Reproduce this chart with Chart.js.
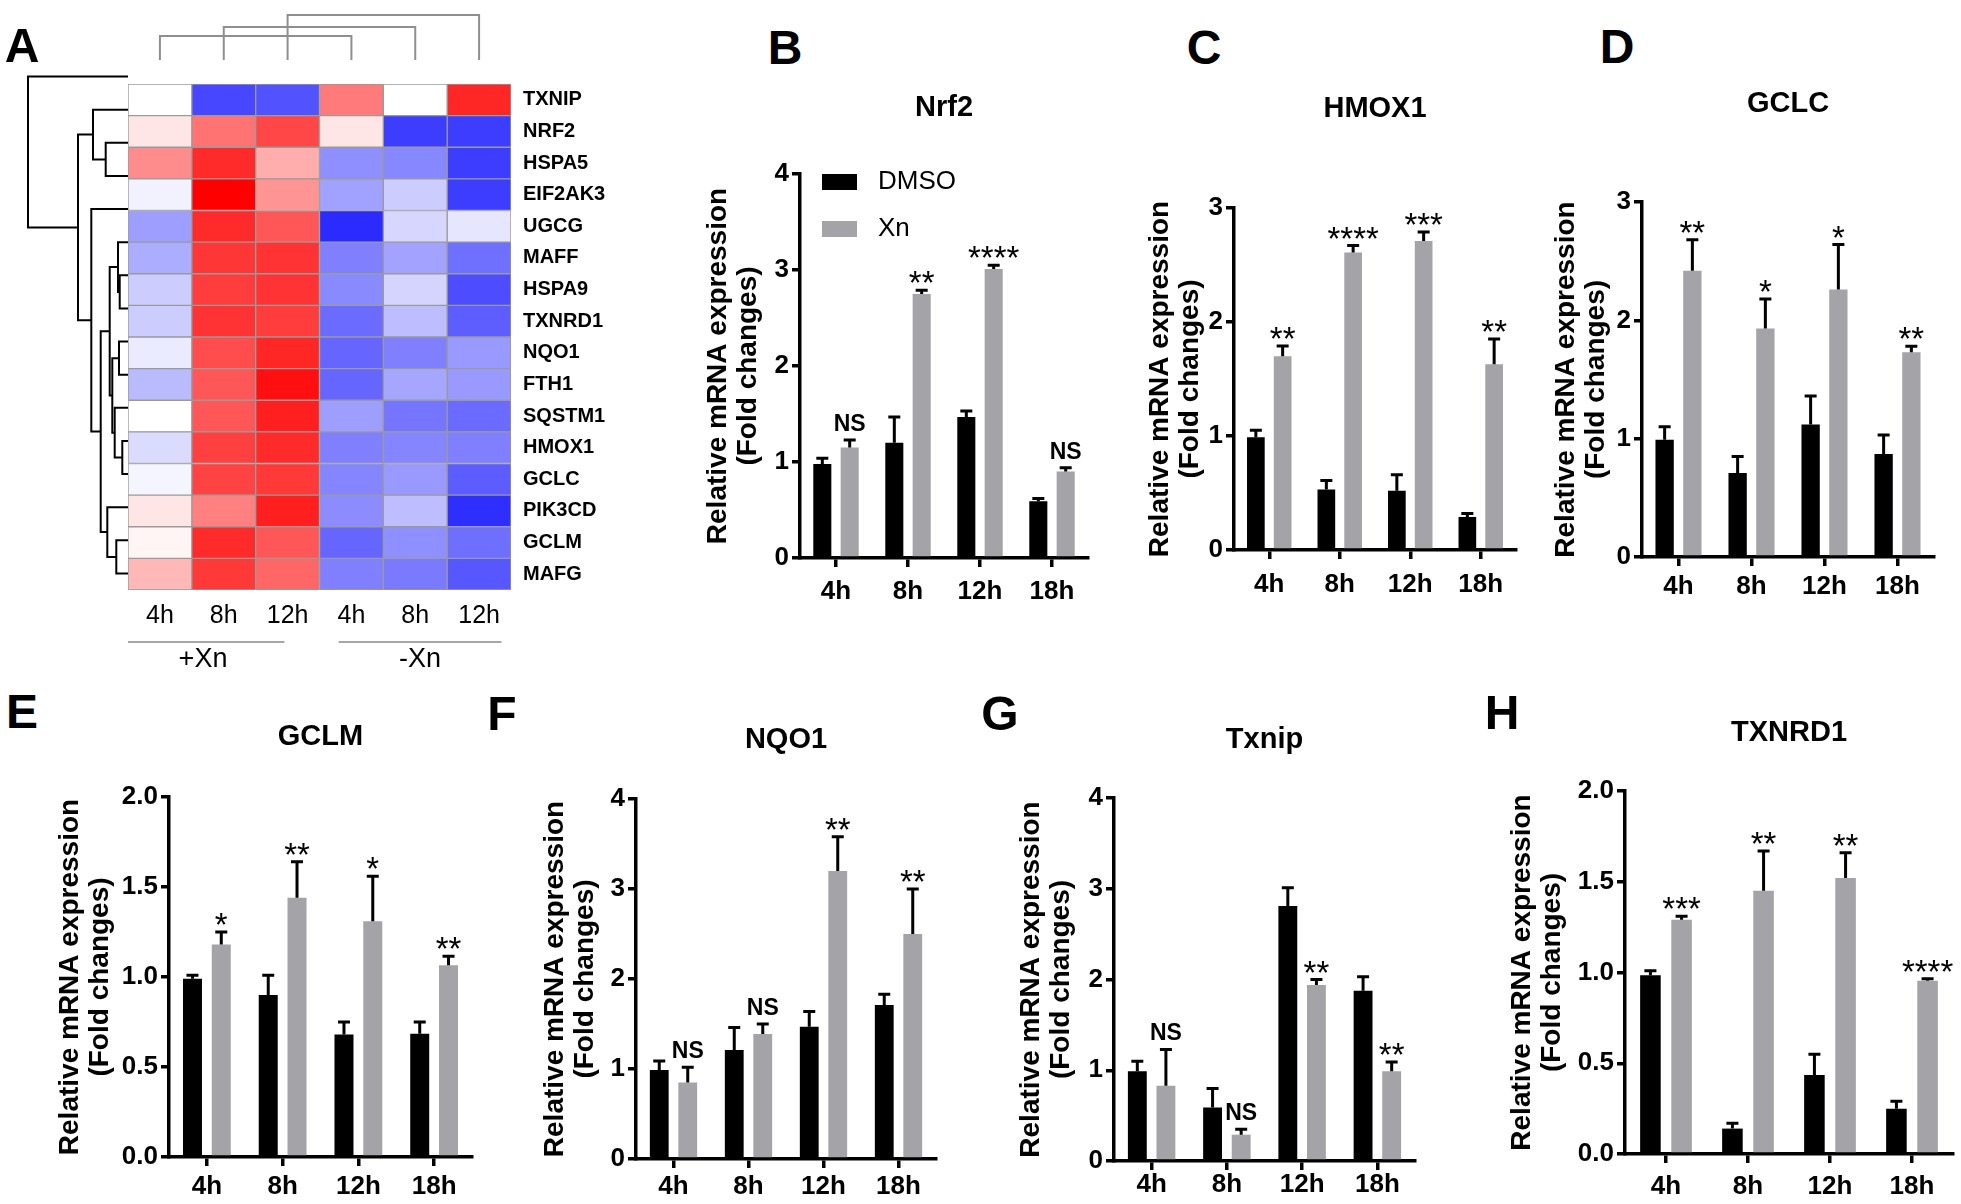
<!DOCTYPE html>
<html>
<head>
<meta charset="utf-8">
<script src="https://cdn.jsdelivr.net/npm/chart.js@4.4.1/dist/chart.umd.min.js"></script>
<style>
  html, body { margin: 0; padding: 0; background: #fff; }
  body { width: 1961px; height: 1204px; position: relative; overflow: hidden; font-family: Arial, "Liberation Sans", sans-serif; }
  .tag { position: absolute; font-weight: bold; font-size: 48px; line-height: 48px; color: #000; transform: translate(-50%, -50%); }
</style>
</head>
<body>
<script>
// ---------- data ----------
const heatGenes = ["TXNIP", "NRF2", "HSPA5", "EIF2AK3", "UGCG", "MAFF", "HSPA9", "TXNRD1",
  "NQO1", "FTH1", "SQSTM1", "HMOX1", "GCLC", "PIK3CD", "GCLM", "MAFG"];
const heatCols = ["4h", "8h", "12h", "4h", "8h", "12h"];
const heatGroups = ["+Xn", "-Xn"];
// row z-scores, columns: +Xn 4h 8h 12h, -Xn 4h 8h 12h
const heatValues = [
  [0.00, -0.72, -0.68, 0.52, 0.00, 0.85],
  [0.10, 0.55, 0.72, 0.10, -0.76, -0.76],
  [0.45, 0.83, 0.32, -0.44, -0.47, -0.76],
  [-0.05, 1.00, 0.42, -0.37, -0.20, -0.76],
  [-0.38, 0.83, 0.66, -0.83, -0.16, -0.10],
  [-0.32, 0.79, 0.80, -0.50, -0.36, -0.56],
  [-0.20, 0.76, 0.80, -0.46, -0.17, -0.70],
  [-0.20, 0.80, 0.76, -0.58, -0.26, -0.63],
  [-0.08, 0.70, 0.85, -0.60, -0.50, -0.40],
  [-0.27, 0.66, 0.94, -0.60, -0.35, -0.40],
  [0.00, 0.66, 0.88, -0.38, -0.54, -0.58],
  [-0.14, 0.75, 0.83, -0.50, -0.48, -0.50],
  [-0.04, 0.74, 0.78, -0.48, -0.40, -0.64],
  [0.10, 0.50, 0.88, -0.45, -0.26, -0.82],
  [0.04, 0.83, 0.66, -0.60, -0.44, -0.57],
  [0.28, 0.78, 0.60, -0.50, -0.52, -0.66]
];
// row dendrogram merges [nodeA, nodeB, height]; new nodes numbered from 16
const rowMerges = [
  [11, 12, 5.7], [8, 9, 9], [6, 7, 8.3], [5, 18, 10], [10, 16, 13.3],
  [17, 20, 15.7], [19, 21, 18.3], [14, 15, 11.7], [13, 23, 20.7], [22, 24, 27.3],
  [4, 25, 36.7], [2, 3, 22.3], [1, 27, 35], [28, 26, 50], [0, 29, 100]
];
// column brackets [colA, colB, height]
const colMerges = [[0, 3, 24], [1, 4, 33], [2, 5, 45]];
// group underline spans in column units
const groupSpans = [[-0.1, 2.45], [3.3, 5.85]];

const timeLabels = ["4h", "8h", "12h", "18h"];

const nrf2Dmso = [0.98, 1.20, 1.47, 0.59];
const nrf2DmsoErr = [0.06, 0.27, 0.06, 0.03];
const nrf2Xn = [1.15, 2.75, 3.01, 0.90];
const nrf2XnErr = [0.08, 0.04, 0.04, 0.04];
const nrf2Sig = ["NS", "**", "****", "NS"];

const hmox1Dmso = [0.99, 0.53, 0.52, 0.29];
const hmox1DmsoErr = [0.06, 0.08, 0.14, 0.03];
const hmox1Xn = [1.70, 2.61, 2.71, 1.63];
const hmox1XnErr = [0.09, 0.06, 0.08, 0.22];
const hmox1Sig = ["**", "****", "***", "**"];

const gclcDmso = [0.99, 0.71, 1.12, 0.87];
const gclcDmsoErr = [0.11, 0.14, 0.24, 0.16];
const gclcXn = [2.42, 1.93, 2.26, 1.73];
const gclcXnErr = [0.26, 0.25, 0.38, 0.05];
const gclcSig = ["**", "*", "*", "**"];

const gclmDmso = [0.99, 0.90, 0.68, 0.685];
const gclmDmsoErr = [0.02, 0.11, 0.07, 0.065];
const gclmXn = [1.18, 1.44, 1.31, 1.065];
const gclmXnErr = [0.07, 0.20, 0.25, 0.05];
const gclmSig = ["*", "**", "*", "**"];

const nqo1Dmso = [0.99, 1.21, 1.47, 1.71];
const nqo1DmsoErr = [0.10, 0.25, 0.17, 0.12];
const nqo1Xn = [0.85, 1.39, 3.20, 2.50];
const nqo1XnErr = [0.17, 0.11, 0.38, 0.50];
const nqo1Sig = ["NS", "NS", "**", "**"];

const txnipDmso = [0.99, 0.59, 2.81, 1.875];
const txnipDmsoErr = [0.11, 0.21, 0.20, 0.155];
const txnipXn = [0.83, 0.29, 1.94, 0.99];
const txnipXnErr = [0.40, 0.06, 0.06, 0.10];
const txnipSig = ["NS", "NS", "**", "**"];

const txnrd1Dmso = [0.985, 0.14, 0.435, 0.25];
const txnrd1DmsoErr = [0.025, 0.03, 0.115, 0.04];
const txnrd1Xn = [1.29, 1.45, 1.52, 0.955];
const txnrd1XnErr = [0.02, 0.22, 0.14, 0.01];
const txnrd1Sig = ["***", "**", "**", "****"];

// ---------- helpers ----------
const FONT = 'Arial, "Liberation Sans", sans-serif';
const XN_GRAY = "#a3a3a8";
Chart.defaults.font.family = FONT;
Chart.defaults.color = "#000";

function makeCanvas(left, top, width, height) {
  const c = document.createElement("canvas");
  c.width = width;
  c.height = height;
  c.style.position = "absolute";
  c.style.left = left + "px";
  c.style.top = top + "px";
  c.style.width = width + "px";
  c.style.height = height + "px";
  document.body.appendChild(c);
  return c.getContext("2d");
}

function addTag(text, x, y) {
  const d = document.createElement("div");
  d.className = "tag";
  d.textContent = text;
  d.style.left = x + "px";
  d.style.top = y + "px";
  document.body.appendChild(d);
}

function heatColor(v) {
  const k = Math.round(255 * (1 - Math.abs(v)));
  return v >= 0 ? `rgb(255,${k},${k})` : `rgb(${k},${k},255)`;
}

const quiet = { responsive: false, animation: false, events: [] };

// ---------- panel A ----------
const HM = { left: 128, top: 60, width: 383, height: 530 };

// row dendrogram
const rowY = heatGenes.map((g, i) => i);
const rowH = heatGenes.map(() => 0);
const rowPaths = rowMerges.map(([a, b, h]) => {
  const pts = [{ x: rowH[a], y: rowY[a] }, { x: h, y: rowY[a] }, { x: h, y: rowY[b] }, { x: rowH[b], y: rowY[b] }];
  rowY.push((rowY[a] + rowY[b]) / 2);
  rowH.push(h);
  return pts;
});

new Chart(makeCanvas(HM.left - 110, HM.top, 110, HM.height), {
  type: "scatter",
  data: {
    datasets: rowPaths.map(p => ({
      data: p, showLine: true, borderColor: "#000", borderWidth: 2, pointRadius: 0, clip: false
    }))
  },
  options: {
    ...quiet,
    plugins: { legend: { display: false }, tooltip: { enabled: false } },
    scales: {
      x: { type: "linear", min: 0, max: 110, reverse: true, display: false },
      y: { type: "linear", min: -0.5, max: 15.5, reverse: true, display: false }
    }
  }
});

// column dendrogram
new Chart(makeCanvas(HM.left, 0, HM.width, HM.top), {
  type: "scatter",
  data: {
    datasets: colMerges.map(([a, b, h]) => ({
      data: [{ x: a + 0.5, y: 0 }, { x: a + 0.5, y: h }, { x: b + 0.5, y: h }, { x: b + 0.5, y: 0 }],
      showLine: true, borderColor: "#8f8f8f", borderWidth: 2, pointRadius: 0, clip: false
    }))
  },
  options: {
    ...quiet,
    plugins: { legend: { display: false }, tooltip: { enabled: false } },
    scales: {
      x: { type: "linear", min: 0, max: 6, display: false },
      y: { type: "linear", min: 0, max: 60, display: false }
    }
  }
});

const groupPlugin = {
  id: "groups",
  afterDraw(chart, args, opts) {
    const { ctx, chartArea } = chart;
    const xs = chart.scales.x;
    groupSpans.forEach((sp, i) => {
      const x1 = xs.getPixelForValue(sp[0]);
      const x2 = xs.getPixelForValue(sp[1]);
      ctx.save();
      ctx.strokeStyle = "#8a8a8a";
      ctx.lineWidth = 1.5;
      ctx.beginPath();
      ctx.moveTo(x1, chartArea.bottom + opts.lineOffset);
      ctx.lineTo(x2, chartArea.bottom + opts.lineOffset);
      ctx.stroke();
      ctx.fillStyle = "#000";
      ctx.font = "27px " + FONT;
      ctx.textAlign = "center";
      ctx.textBaseline = "middle";
      ctx.fillText(heatGroups[i], (x1 + x2) / 2, chartArea.bottom + opts.textOffset);
      ctx.restore();
    });
  }
};

new Chart(makeCanvas(HM.left, HM.top, HM.width + 130, HM.height + 100), {
  type: "bar",
  data: {
    labels: heatGenes,
    datasets: heatCols.map((c, ci) => ({
      data: heatGenes.map(() => [ci, ci + 1]),
      backgroundColor: heatValues.map(row => heatColor(row[ci])),
      borderColor: "#9a9a9a",
      borderWidth: 1,
      borderSkipped: false,
      grouped: false,
      categoryPercentage: 1,
      barPercentage: 1,
      xAxisID: "x",
      yAxisID: "y"
    }))
  },
  options: {
    ...quiet,
    indexAxis: "y",
    plugins: {
      legend: { display: false }, tooltip: { enabled: false },
      groups: { lineOffset: 52, textOffset: 70 }
    },
    scales: {
      x: { type: "linear", min: 0, max: 6, display: false },
      y: {
        type: "category", position: "right",
        grid: { display: false, drawTicks: false }, border: { display: false },
        ticks: { padding: 12, color: "#000", font: { size: 20, weight: "bold" } },
        afterFit: s => { s.width = 130; }
      },
      xl: {
        type: "category", axis: "x", position: "bottom", labels: heatCols, offset: true,
        grid: { display: false, drawTicks: false }, border: { display: false },
        ticks: { padding: 11, color: "#000", font: { size: 25 } },
        afterFit: s => { s.height = 100; }
      }
    }
  },
  plugins: [groupPlugin]
});
addTag("A", 22, 46);

// ---------- bar panels ----------
const errorBarPlugin = {
  id: "errorBars",
  afterDatasetsDraw(chart) {
    const { ctx } = chart;
    const ys = chart.scales.y;
    chart.data.datasets.forEach((ds, di) => {
      chart.getDatasetMeta(di).data.forEach((bar, i) => {
        const yBar = ys.getPixelForValue(ds.data[i]);
        const yTop = ys.getPixelForValue(ds.data[i] + ds.errors[i]);
        ctx.save();
        ctx.strokeStyle = "#000";
        ctx.lineWidth = 3;
        ctx.beginPath();
        ctx.moveTo(bar.x, yBar);
        ctx.lineTo(bar.x, yTop);
        ctx.moveTo(bar.x - 6, yTop);
        ctx.lineTo(bar.x + 6, yTop);
        ctx.stroke();
        ctx.restore();
      });
    });
  }
};

const sigPlugin = {
  id: "sig",
  afterDatasetsDraw(chart, args, opts) {
    const { ctx } = chart;
    const ys = chart.scales.y;
    const ds = chart.data.datasets[1];
    const meta = chart.getDatasetMeta(1);
    opts.labels.forEach((lab, i) => {
      const yTop = ys.getPixelForValue(ds.data[i] + ds.errors[i]);
      const x = meta.data[i].x;
      ctx.save();
      ctx.fillStyle = "#000";
      ctx.textAlign = "center";
      ctx.textBaseline = "alphabetic";
      if (lab === "NS") {
        ctx.font = "bold 23px " + FONT;
        ctx.fillText(lab, x, yTop - 9);
      } else {
        ctx.font = "33px " + FONT;
        ctx.fillText(lab, x, yTop + 4);
      }
      ctx.restore();
    });
  }
};

const keyPlugin = {
  id: "key",
  afterDraw(chart, args, opts) {
    if (!opts.show) return;
    const { ctx, chartArea } = chart;
    chart.data.datasets.forEach((ds, i) => {
      const cy = chartArea.top + 8 + i * 47;
      ctx.save();
      ctx.fillStyle = ds.backgroundColor;
      ctx.fillRect(chartArea.left + 22, cy - 8, 35, 16);
      ctx.fillStyle = "#000";
      ctx.font = "26px " + FONT;
      ctx.textAlign = "left";
      ctx.textBaseline = "middle";
      ctx.fillText(ds.label, chartArea.left + 78, cy);
      ctx.restore();
    });
  }
};

const panels = [
  { tag: "B", title: "Nrf2", dmso: nrf2Dmso, dmsoErr: nrf2DmsoErr, xn: nrf2Xn, xnErr: nrf2XnErr, sig: nrf2Sig, max: 4, step: 1, key: true,
    box: { plotLeft: 800, plotRight: 1088, plotTop: 174, plotBottom: 558, titleY: 108, yTitleX: 718, labelY: 592, tagX: 785, tagY: 48, padR: 50 } },
  { tag: "C", title: "HMOX1", dmso: hmox1Dmso, dmsoErr: hmox1DmsoErr, xn: hmox1Xn, xnErr: hmox1XnErr, sig: hmox1Sig, max: 3, step: 1,
    box: { plotLeft: 1234, plotRight: 1516, plotTop: 208, plotBottom: 550, titleY: 109, yTitleX: 1160, labelY: 585, tagX: 1204, tagY: 48, padR: 40 } },
  { tag: "D", title: "GCLC", dmso: gclcDmso, dmsoErr: gclcDmsoErr, xn: gclcXn, xnErr: gclcXnErr, sig: gclcSig, max: 3, step: 1,
    box: { plotLeft: 1642, plotRight: 1934, plotTop: 202, plotBottom: 557, titleY: 104, yTitleX: 1566, labelY: 587, tagX: 1617, tagY: 47, padR: 25 } },
  { tag: "E", title: "GCLM", dmso: gclmDmso, dmsoErr: gclmDmsoErr, xn: gclmXn, xnErr: gclmXnErr, sig: gclmSig, max: 2, step: 0.5, fixed: 1,
    box: { plotLeft: 169, plotRight: 472, plotTop: 797, plotBottom: 1157, titleY: 737, yTitleX: 70, labelY: 1187, tagX: 22, tagY: 712, padR: 40 } },
  { tag: "F", title: "NQO1", dmso: nqo1Dmso, dmsoErr: nqo1DmsoErr, xn: nqo1Xn, xnErr: nqo1XnErr, sig: nqo1Sig, max: 4, step: 1,
    box: { plotLeft: 636, plotRight: 936, plotTop: 799, plotBottom: 1159, titleY: 740, yTitleX: 555, labelY: 1187, tagX: 502, tagY: 714, padR: 40 } },
  { tag: "G", title: "Txnip", dmso: txnipDmso, dmsoErr: txnipDmsoErr, xn: txnipXn, xnErr: txnipXnErr, sig: txnipSig, max: 4, step: 1,
    box: { plotLeft: 1114, plotRight: 1415, plotTop: 798, plotBottom: 1161, titleY: 740, yTitleX: 1031, labelY: 1185, tagX: 1000, tagY: 714, padR: 40 } },
  { tag: "H", title: "TXNRD1", dmso: txnrd1Dmso, dmsoErr: txnrd1DmsoErr, xn: txnrd1Xn, xnErr: txnrd1XnErr, sig: txnrd1Sig, max: 2, step: 0.5, fixed: 1,
    box: { plotLeft: 1625, plotRight: 1953, plotTop: 791, plotBottom: 1154, titleY: 733, yTitleX: 1522, labelY: 1187, tagX: 1502, tagY: 713, padR: 8 } }
];

const TITLE_LH = 29 * 1.2;
const YT_LH = 30;
const TICK_LEN = 9;
const XLAB_LH = 26 * 1.2;
const X_AXIS_H = 60;

function barPanel(p) {
  const b = p.box;
  const left = Math.round(b.yTitleX - YT_LH / 2);
  const top = Math.round(b.titleY - TITLE_LH / 2);
  const width = b.plotRight + b.padR - left;
  const height = b.plotBottom + X_AXIS_H - top;
  new Chart(makeCanvas(left, top, width, height), {
    type: "bar",
    data: {
      labels: timeLabels,
      datasets: [
        { label: "DMSO", data: p.dmso, errors: p.dmsoErr, backgroundColor: "#000", categoryPercentage: 0.76, barPercentage: 0.66 },
        { label: "Xn", data: p.xn, errors: p.xnErr, backgroundColor: XN_GRAY, categoryPercentage: 0.76, barPercentage: 0.66 }
      ]
    },
    options: {
      ...quiet,
      layout: { padding: { right: b.padR } },
      plugins: {
        legend: { display: false },
        tooltip: { enabled: false },
        title: {
          display: true, text: p.title, fullSize: false, color: "#000",
          font: { size: 29, weight: "bold", lineHeight: 1.2 },
          padding: { top: 0, bottom: b.plotTop - top - TITLE_LH }
        },
        sig: { labels: p.sig },
        key: { show: !!p.key }
      },
      scales: {
        x: {
          z: 1,
          grid: { offset: false, drawOnChartArea: false, drawTicks: true, tickLength: TICK_LEN, color: "#000", lineWidth: 3.5 },
          border: { display: true, color: "#000", width: 3.5 },
          ticks: { color: "#000", font: { size: 26, weight: "bold" }, padding: b.labelY - b.plotBottom - TICK_LEN - XLAB_LH / 2 },
          afterFit: s => { s.height = X_AXIS_H; }
        },
        y: {
          z: 1, min: 0, max: p.max,
          grid: { drawOnChartArea: false, drawTicks: true, tickLength: 8, color: "#000", lineWidth: 3.5 },
          border: { display: true, color: "#000", width: 3.5 },
          ticks: {
            stepSize: p.step, padding: 3, color: "#000", font: { size: 26, weight: "bold" },
            callback: v => p.fixed ? Number(v).toFixed(p.fixed) : v
          },
          title: {
            display: true, text: ["Relative mRNA expression", "(Fold changes)"], color: "#000",
            font: { size: 28, weight: "bold", lineHeight: 30 / 28 }, padding: 0
          },
          afterFit: s => { s.width = b.plotLeft - left; }
        }
      }
    },
    plugins: [errorBarPlugin, sigPlugin, keyPlugin]
  });
  addTag(p.tag, b.tagX, b.tagY);
}

panels.forEach(barPanel);
</script>
</body>
</html>
